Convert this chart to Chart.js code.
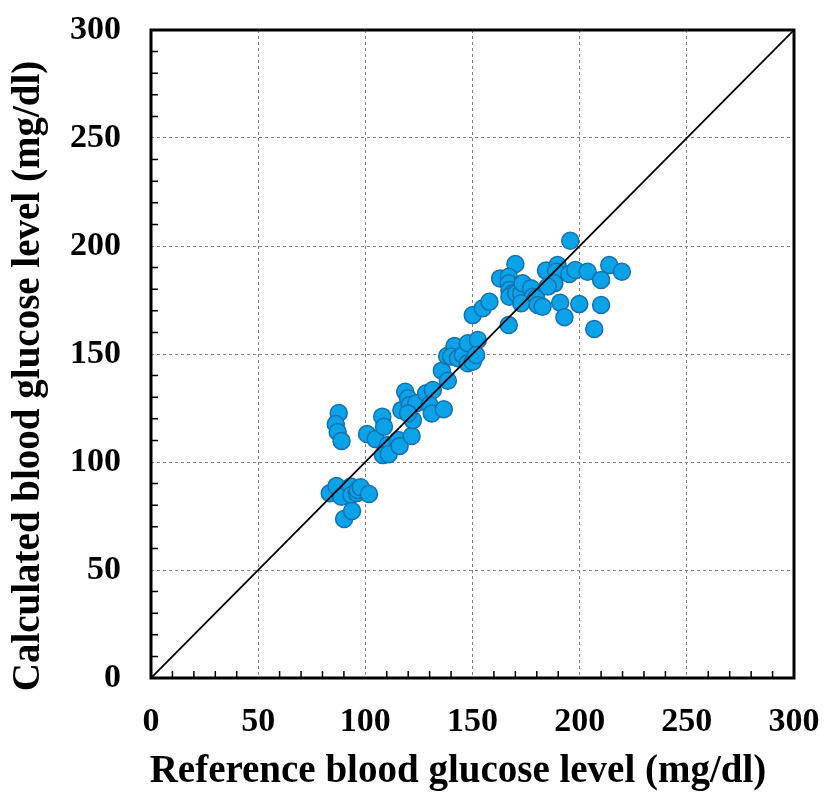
<!DOCTYPE html>
<html lang="en">
<head>
    <meta charset="UTF-8">
    <title>Reference vs calculated blood glucose</title>
    <style>
        body { margin: 0; background: #ffffff; }
        .wrap { width: 824px; height: 795px; }
    </style>
    <script src="https://cdn.jsdelivr.net/npm/chart.js"></script>
</head>
<body>
    <div class="wrap"><canvas id="myChart" width="824" height="795"></canvas></div>
    <script>
        // reference (x) and calculated (y) glucose, mg/dl
        const refGlucose = [
            83.4, 86.5, 88.8, 90.1, 93.2, 93.5, 93.8, 96, 96.4, 97.8, 101.7,
            87.6, 86.2, 87.1, 88.9,
            100.8, 104.8, 107.9, 108.7, 110.5, 108.2, 110.9, 115.2, 116, 121.6,
            116.8, 118.6, 119.9, 120.7, 123.8, 122.2, 119.9, 128.4, 131.5, 130,
            131, 136.6, 135.7, 138.5, 138.2, 141.6, 140, 143.2, 145.5, 147.8,
            150.1, 147.8, 152.5, 151.7, 150.1, 154.8, 157.9, 166.9,
            170, 162.9, 166.9, 166.9, 167.2, 168.8, 167.2, 170.4, 172.7, 173.4,
            177.3, 178.1, 179.7, 172.7, 180.4, 182.7, 184.3, 189.7, 189, 188.2,
            185.1, 195.2, 198, 203.7, 213.8, 219.7, 210, 190.9, 199.8, 210,
            192.9, 206.8, 195.6
        ];
        const calcGlucose = [
            85.5, 88.9, 83.9, 73.6, 88.6, 84.7, 77.3, 85.6, 87, 88.3, 85.2,
            122.7, 117.6, 113.9, 109.7,
            113, 110.6, 121, 116.3, 107.9, 103.2, 103.6, 110.2, 107.4, 112,
            124, 132.5, 129.5, 126.4, 127.2, 119.4, 122.5, 131.8, 133.3, 126.4,
            122.5, 124.4, 142.3, 137.6, 149.1, 153.7, 148.8, 148, 149.5, 145.7,
            146.4, 155, 156.5, 149.5, 168, 171.2, 174.2, 163.4,
            191.7, 185, 185.8, 182.7, 179.6, 178.1, 176.5, 178.1, 178.1, 182.7,
            180.4, 176.5, 175.8, 173.5, 172.7, 171.9, 188.6, 191.2, 188.1, 182.7,
            181.2, 187, 188.9, 188.1, 191.2, 188.1, 184.3, 173.7, 173.1, 172.7,
            167, 161.6, 202.4
        ];
        const identityLine = [0, 300];
        const axisMin = 0, axisMax = 300, majorStep = 50, minorStep = 10;
        const xTitle = 'Reference blood glucose level (mg/dl)';
        const yTitle = 'Calculated blood glucose level (mg/dl)';

        const points = refGlucose.map((x, i) => ({ x: x, y: calcGlucose[i] }));
        const diag = identityLine.map(v => ({ x: v, y: v }));

        const serif = "'Liberation Serif', 'Times New Roman', serif";

        // frame + small inner ticks
        const framePlugin = {
            id: 'frame',
            afterDatasetsDraw(chart) {
                const { ctx, chartArea: a, scales } = chart;
                ctx.save();
                ctx.strokeStyle = '#000';
                ctx.lineWidth = 1.5;
                for (let v = axisMin + minorStep; v < axisMax; v += minorStep) {
                    if (v % majorStep === 0) continue;
                    const px = scales.x.getPixelForValue(v);
                    const py = scales.y.getPixelForValue(v);
                    ctx.beginPath();
                    ctx.moveTo(px, a.bottom);
                    ctx.lineTo(px, a.bottom - 7);
                    ctx.moveTo(a.left, py);
                    ctx.lineTo(a.left + 7, py);
                    ctx.stroke();
                }
                ctx.lineWidth = 3;
                ctx.strokeRect(a.left, a.top, a.right - a.left, a.bottom - a.top);
                ctx.restore();
            },
            // axis titles sit a bit off-centre in the original, so place them by hand
            afterDraw(chart) {
                const ctx = chart.ctx;
                ctx.save();
                ctx.fillStyle = '#000';
                ctx.font = 'bold 39px ' + serif;
                ctx.textAlign = 'center';
                ctx.textBaseline = 'middle';
                ctx.fillText(xTitle, 458, 772);
                ctx.translate(29, 376);
                ctx.rotate(-Math.PI / 2);
                ctx.fillText(yTitle, 0, 0);
                ctx.restore();
            }
        };

        new Chart(document.getElementById('myChart'), {
            type: 'scatter',
            data: {
                datasets: [
                    {
                        type: 'line',
                        data: diag,
                        borderColor: '#000',
                        borderWidth: 1.8,
                        pointRadius: 0,
                        fill: false,
                        order: 0
                    },
                    {
                        data: points,
                        backgroundColor: '#0aa3e8',
                        borderColor: '#1470b0',
                        borderWidth: 1.5,
                        pointRadius: 8.5,
                        order: 1
                    }
                ]
            },
            options: {
                responsive: false,
                animation: false,
                layout: { padding: { left: 0, top: 30, right: 30, bottom: 0 } },
                plugins: { legend: { display: false }, tooltip: { enabled: false } },
                scales: {
                    x: {
                        type: 'linear',
                        min: axisMin, max: axisMax,
                        afterFit: s => { s.height = 117; s.paddingLeft = 0; s.paddingRight = 0; },
                        ticks: {
                            stepSize: majorStep,
                            padding: 24,
                            color: '#000',
                            font: { family: serif, size: 34, weight: 'bold' }
                        },
                        grid: { color: '#7f7f7f', lineWidth: 1, drawTicks: false },
                        border: { display: false, dash: [3, 3] },
                        title: { display: false }
                    },
                    y: {
                        type: 'linear',
                        min: axisMin, max: axisMax,
                        afterFit: s => { s.width = 151; s.paddingTop = 0; s.paddingBottom = 0; },
                        ticks: {
                            stepSize: majorStep,
                            padding: 30,
                            color: '#000',
                            font: { family: serif, size: 34, weight: 'bold' }
                        },
                        grid: { color: '#7f7f7f', lineWidth: 1, drawTicks: false },
                        border: { display: false, dash: [3, 3] },
                        title: { display: false }
                    }
                }
            },
            plugins: [framePlugin]
        });
    </script>
</body>
</html>
